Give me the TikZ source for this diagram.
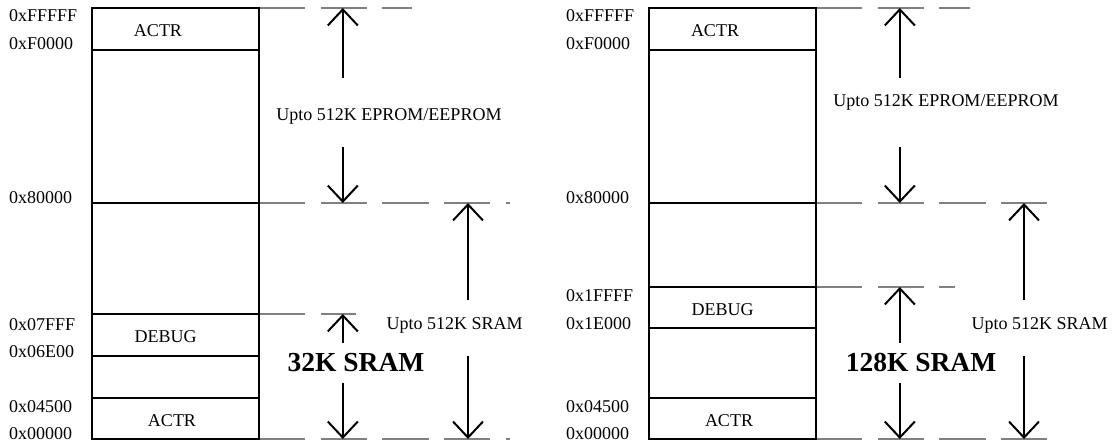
\documentclass[tikz,border=0pt]{standalone}
\usepackage{fontspec}
\setmainfont{Liberation Serif}
\usetikzlibrary{arrows.meta}
\definecolor{Ink}{HTML}{000000}
\definecolor{Guide}{HTML}{808080}
\tikzset{
    membox/.style={draw=Ink, line width=2pt},
    guide/.style={draw=Guide, line width=1.2pt, dash pattern=on 46.3pt off 15.4pt},
    dimarrow/.style={-{Straight Barb[length=16pt, width=30pt]}, line width=2pt, draw=Ink},
    addr/.style={anchor=base west, inner sep=0pt, font=\fontsize{18}{20}\selectfont},
    region/.style={anchor=base, inner sep=0pt, font=\fontsize{18}{20}\selectfont},
    sizelabel/.style={anchor=base, inner sep=0pt, font=\bfseries\fontsize{27.5}{30}\selectfont},
}

\begin{document}
\begin{tikzpicture}[x=1pt, y=-1pt]
    \useasboundingbox (0,0) rectangle (1117,441);

    % Mappa 32K
    \begin{scope}
        % Guide
        \draw[guide] (259,8) -- (412,8);
        \draw[guide] (259,203) -- (510,203);
        \draw[guide] (259,314) -- (356,314);
        \draw[guide] (259,439) -- (510,439);

        % Memoria
        \draw[membox] (92,8) rectangle (259,439);
        \foreach \y in {50,203,314,356,398} \draw[membox] (92,\y) -- (259,\y);

        % Indirizzi
        \node[addr] (l-fffff) at (9,21.5) {0xFFFFF};
        \node[addr] (l-f0000) at (9,50) {0xF0000};
        \node[addr] (l-80000) at (9,204) {0x80000};
        \node[addr] (l-07fff) at (9,330) {0x07FFF};
        \node[addr] (l-06e00) at (9,357) {0x06E00};
        \node[addr] (l-04500) at (9,412.5) {0x04500};
        \node[addr] (l-00000) at (9,439) {0x00000};

        % Blocchi
        \node[region] (l-actrhi) at (158,36.5) {ACTR};
        \node[region] (l-debug) at (165.7,342.5) {DEBUG};
        \node[region] (l-actrlo) at (172,426) {ACTR};

        % Quote
        \coordinate (l-eptop) at (342.8,8);
        \coordinate (l-epbot) at (342.8,203);
        \node[region] (l-ep) at (389,120.5) {Upto 512K EPROM/EEPROM};
        \draw[dimarrow] (342.8,78) -- (l-eptop);
        \draw[dimarrow] (342.8,147) -- (l-epbot);

        \coordinate (l-srtop) at (468,203);
        \coordinate (l-srbot) at (468,439);
        \node[region] (l-sr) at (454.6,329) {Upto 512K SRAM};
        \draw[dimarrow] (468,300) -- (l-srtop);
        \draw[dimarrow] (468,356) -- (l-srbot);

        \coordinate (l-kbtop) at (342.8,314);
        \coordinate (l-kbbot) at (342.8,439);
        \node[sizelabel] (l-kb) at (356,371.5) {32K SRAM};
        \draw[dimarrow] (342.8,343) -- (l-kbtop);
        \draw[dimarrow] (342.8,383) -- (l-kbbot);
    \end{scope}

    % Mappa 128K
    \begin{scope}[xshift=557pt]
        % Guide
        \draw[guide] (259,8) -- (412.5,8);
        \draw[guide] (259,203) -- (489.7,203);
        \draw[guide] (259,287) -- (398,287);
        \draw[guide] (259,439) -- (489.7,439);

        % Memoria
        \draw[membox] (92,8) rectangle (259,439);
        \foreach \y in {50,203,287,328,398} \draw[membox] (92,\y) -- (259,\y);

        % Indirizzi
        \node[addr] (r-fffff) at (9,21.5) {0xFFFFF};
        \node[addr] (r-f0000) at (9,50) {0xF0000};
        \node[addr] (r-80000) at (9,204) {0x80000};
        \node[addr] (r-1ffff) at (9,301.5) {0x1FFFF};
        \node[addr] (r-1e000) at (9,329) {0x1E000};
        \node[addr] (r-04500) at (9,412.5) {0x04500};
        \node[addr] (r-00000) at (9,439) {0x00000};

        % Blocchi
        \node[region] (r-actrhi) at (158,36.5) {ACTR};
        \node[region] (r-debug) at (165.7,315) {DEBUG};
        \node[region] (r-actrlo) at (172,426) {ACTR};

        % Quote
        \coordinate (r-eptop) at (342.8,8);
        \coordinate (r-epbot) at (342.8,203);
        \node[region] (r-ep) at (389,107) {Upto 512K EPROM/EEPROM};
        \draw[dimarrow] (342.8,78) -- (r-eptop);
        \draw[dimarrow] (342.8,147) -- (r-epbot);

        \coordinate (r-srtop) at (467,203);
        \coordinate (r-srbot) at (467,439);
        \node[region] (r-sr) at (482.7,329) {Upto 512K SRAM};
        \draw[dimarrow] (467,300) -- (r-srtop);
        \draw[dimarrow] (467,356) -- (r-srbot);

        \coordinate (r-kbtop) at (342.8,287);
        \coordinate (r-kbbot) at (342.8,439);
        \node[sizelabel] (r-kb) at (364,371.5) {128K SRAM};
        \draw[dimarrow] (342.8,343) -- (r-kbtop);
        \draw[dimarrow] (342.8,383) -- (r-kbbot);
    \end{scope}
\end{tikzpicture}
\end{document}
